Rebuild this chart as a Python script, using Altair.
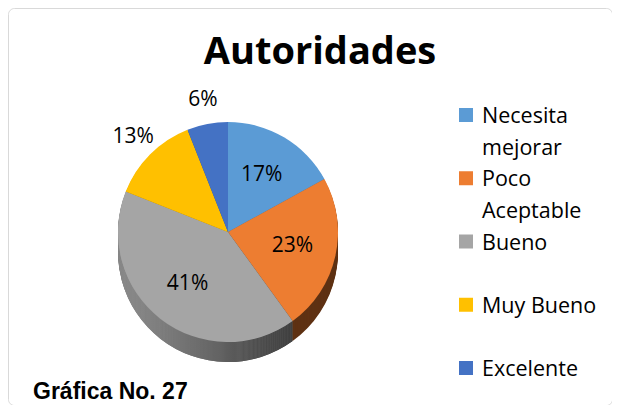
import altair as alt
import pandas as pd

# ---- data ----
CATEGORIES = ["Necesita mejorar", "Poco Aceptable", "Bueno", "Muy Bueno", "Excelente"]
LEGEND_LABELS = ["Necesita\nmejorar", "Poco\nAceptable", "Bueno", "Muy Bueno", "Excelente"]
PERCENTS = [17, 23, 41, 13, 6]
TITLE = "Autoridades"
FOOTER = "Gráfica No. 27"

# ---- styles ----
TOP_COLORS = ["#5B9BD5", "#ED7D31", "#A5A5A5", "#FFC000", "#4472C4"]
SIDE_COLORS = ["#3A6E9E", "#5F3214", "#6B6B6B", "#A67C00", "#2C4C86"]
FONT = "Open Sans"

W, H = 604, 397
CX, CY, R, DEPTH = 220, 224, 110, 20

df = pd.DataFrame({
    "cat": CATEGORIES,
    "legend": LEGEND_LABELS,
    "val": PERCENTS,
    "idx": list(range(len(CATEGORIES))),
})

base = alt.Chart(df).transform_calculate(lbl="datum.val + '%'")
theta = alt.Theta("val:Q", stack=True)
order = alt.Order("idx:Q", sort="ascending")
top_scale = alt.Scale(domain=CATEGORIES, range=TOP_COLORS)
side_scale = alt.Scale(domain=CATEGORIES, range=SIDE_COLORS)

gray_side = alt.LinearGradient(
    gradient="linear",
    stops=[alt.GradientStop(color="#9A9A9A", offset=0),
           alt.GradientStop(color="#383838", offset=1)],
    x1=0, x2=1, y1=0, y2=0,
)

layers = []
# extruded side of the pie
for d in range(DEPTH, 0, -1):
    layers.append(
        base.mark_arc(radius=R).encode(
            theta=theta, order=order,
            color=alt.Color("cat:N", scale=side_scale, legend=None),
            x=alt.value(CX), y=alt.value(CY + d),
        )
    )
    layers.append(
        base.mark_arc(radius=R, fill=gray_side).encode(
            theta=theta, order=order,
            opacity=alt.condition("datum.cat == 'Bueno'", alt.value(1), alt.value(0)),
            x=alt.value(CX), y=alt.value(CY + d),
        )
    )

# top face
layers.append(
    base.mark_arc(radius=R).encode(
        theta=theta, order=order,
        color=alt.Color("cat:N", scale=top_scale, legend=None),
        x=alt.value(CX), y=alt.value(CY),
    )
)

# percentage labels: large slices inside, small slices outside
layers.append(
    base.mark_text(radius=66, font=FONT, fontSize=21, color="#000000").encode(
        theta=theta, order=order,
        text=alt.condition("datum.val >= 15", alt.Text("lbl:N"), alt.value("")),
        x=alt.value(CX), y=alt.value(CY),
    )
)
layers.append(
    base.mark_text(radius=R + 24, font=FONT, fontSize=21, color="#000000").encode(
        theta=theta, order=order,
        text=alt.condition("datum.val < 15", alt.Text("lbl:N"), alt.value("")),
        x=alt.value(CX), y=alt.value(CY),
    )
)

# legend (drawn from the same categories and colours)
leg_y = alt.Y("cat:N", scale=alt.Scale(type="point", domain=CATEGORIES, range=[107, 360], padding=0), axis=None)
layers.append(
    base.mark_square(size=196, opacity=1).encode(
        y=leg_y, x=alt.value(458),
        color=alt.Color("cat:N", scale=top_scale, legend=None),
    )
)
layers.append(
    base.mark_text(align="left", baseline="alphabetic", dy=8, lineBreak="\n",
                   lineHeight=32, font=FONT, fontSize=21.5, color="#000000").encode(
        y=leg_y, x=alt.value(474), text="legend:N",
    )
)

# title and footer
layers.append(
    alt.Chart(pd.DataFrame({"t": [TITLE]})).mark_text(
        align="center", baseline="alphabetic", font=FONT, fontSize=38,
        fontWeight="bold", color="#000000",
    ).encode(text="t:N", x=alt.value(312), y=alt.value(56))
)
layers.append(
    alt.Chart(pd.DataFrame({"t": [FOOTER]})).mark_text(
        align="left", baseline="alphabetic", font="Liberation Sans", fontSize=23,
        fontWeight="bold", color="#000000",
    ).encode(text="t:N", x=alt.value(25), y=alt.value(391))
)

chart = alt.layer(*layers).resolve_scale(color="independent").properties(
    width=W, height=H, padding=0, autosize=alt.AutoSizeParams(type="none"),
).configure_view(stroke="#D9D9D9", strokeWidth=1, cornerRadius=6)

chart.save("out.html", embed_options={"renderer": "svg", "actions": False})
